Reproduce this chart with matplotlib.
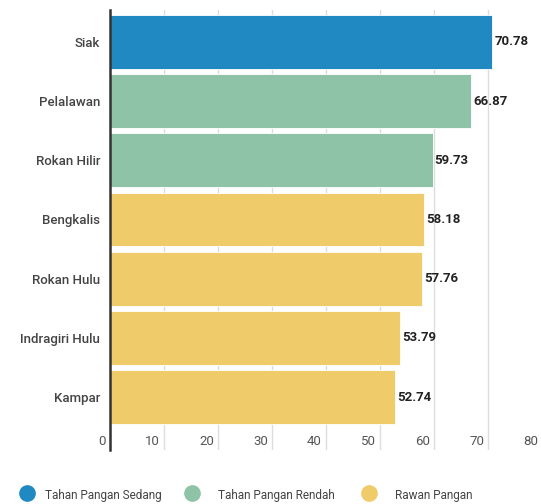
import matplotlib.pyplot as plt
import matplotlib.transforms as mtransforms
from matplotlib.lines import Line2D

plt.rcParams['font.family'] = ['Roboto', 'DejaVu Sans']

# data
regions = ['Siak', 'Pelalawan', 'Rokan Hilir', 'Bengkalis', 'Rokan Hulu', 'Indragiri Hulu', 'Kampar']
values = [70.78, 66.87, 59.73, 58.18, 57.76, 53.79, 52.74]
groups = ['Tahan Pangan Sedang', 'Tahan Pangan Rendah', 'Tahan Pangan Rendah',
          'Rawan Pangan', 'Rawan Pangan', 'Rawan Pangan', 'Rawan Pangan']
group_names = ['Tahan Pangan Sedang', 'Tahan Pangan Rendah', 'Rawan Pangan']
group_colors = {'Tahan Pangan Sedang': '#2089C2',
                'Tahan Pangan Rendah': '#8FC3A7',
                'Rawan Pangan': '#F0CB69'}
xticks = [0, 10, 20, 30, 40, 50, 60, 70, 80]

W, H = 541, 504
fig = plt.figure(figsize=(W / 100, H / 100), dpi=100)
# axes: x 110..542 px, y 10..450 px
ax = fig.add_axes([110 / W, (H - 450) / H, 432 / W, 440 / H])

pos = list(range(len(regions)))
cols = [group_colors[g] for g in groups]
ax.barh(pos, values, height=0.91, color=cols, edgecolor='white', linewidth=0.6, zorder=2)

ax.set_xlim(0, 80)
ax.set_ylim(6.895, -0.54)

ax.set_yticks(pos)
ax.set_yticklabels(regions, fontsize=9.5, color='#444444', fontweight='medium')
ax.tick_params(axis='y', length=0, pad=7)

ax.set_xticks(xticks)
ax.set_xticklabels([])
ax.tick_params(axis='x', length=0)
ax.grid(axis='x', color='#dddddd', linewidth=1, zorder=0)
ax.set_axisbelow(True)

trans = mtransforms.blended_transform_factory(ax.transData, ax.transAxes)
off = mtransforms.ScaledTranslation(-4 / 100, 0, fig.dpi_scale_trans)
for t in xticks:
    ax.text(t, 0.02, str(t), transform=trans + off, ha='right', va='center',
            fontsize=9.5, color='#555555')

for p, v in zip(pos, values):
    ax.text(v + 0.4, p, f'{v:.2f}', va='center', ha='left', fontsize=9.5,
            fontweight='bold', color='#222222', zorder=3)

for s in ['top', 'right', 'bottom']:
    ax.spines[s].set_visible(False)
ax.spines['left'].set_color('#333333')
ax.spines['left'].set_linewidth(1.8)
ax.spines['left'].set_zorder(4)

# legend, laid out by hand (pixel positions of each entry)
marker_x = [27, 192, 369]
text_x = [45, 218, 395]
for g, mx, tx in zip(group_names, marker_x, text_x):
    fig.add_artist(Line2D([mx / W], [1 - 493 / H], marker='o', linestyle='',
                          markersize=11, markerfacecolor=group_colors[g],
                          markeredgecolor=group_colors[g], transform=fig.transFigure))
    fig.text(tx / W, 1 - 496 / H, g, ha='left', va='center', fontsize=8.5, color='#444444')

fig.savefig('out.png', dpi=100)
